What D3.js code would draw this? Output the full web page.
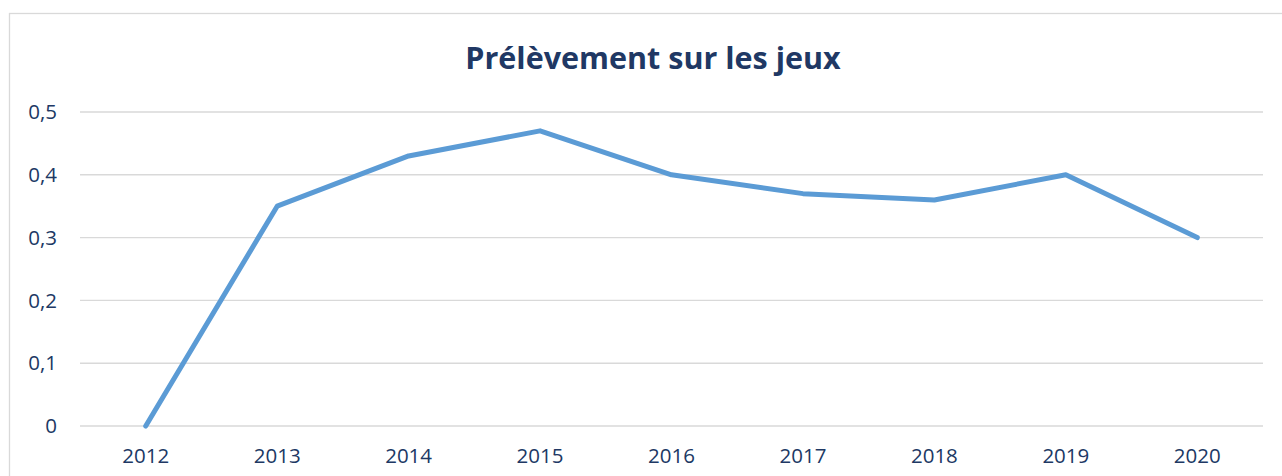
<!doctype html>
<html lang="fr">
<head>
<meta charset="utf-8">
<title>Prélèvement sur les jeux</title>
<script src="https://d3js.org/d3.v7.min.js"></script>
<style>
  body { margin: 0; background: #fff; }
  text { font-family: "Open Sans", "Noto Sans", sans-serif; fill: #203864; }
  .grid line { stroke: #d9d9d9; stroke-width: 1.4; }
</style>
</head>
<body>
<div id="chart"></div>
<script>
var years = ["2012", "2013", "2014", "2015", "2016", "2017", "2018", "2019", "2020"];
var values = [0, 0.35, 0.43, 0.47, 0.40, 0.37, 0.36, 0.40, 0.30];
var yTicks = [0, 0.1, 0.2, 0.3, 0.4, 0.5];
var title = "Prélèvement sur les jeux";

var width = 1282, height = 476;
var plotLeft = 80, plotRight = 1263, plotTop = 112, plotBottom = 426;

var svg = d3.select("#chart").append("svg")
    .attr("width", width)
    .attr("height", height);

// outer frame of the chart area
svg.append("rect")
    .attr("x", 9.5).attr("y", 13.5)
    .attr("width", width + 20).attr("height", height + 20)
    .attr("fill", "none")
    .attr("stroke", "#d9d9d9")
    .attr("stroke-width", 1.3);

var x = d3.scaleBand().domain(years).range([plotLeft, plotRight]);
var y = d3.scaleLinear().domain([0, 0.5]).range([plotBottom, plotTop]);

var fmt = function(d) { return d3.format(".1~f")(d).replace(".", ","); };

// gridlines
svg.append("g").attr("class", "grid")
  .selectAll("line").data(yTicks).enter()
  .append("line")
    .attr("x1", plotLeft).attr("x2", plotRight)
    .attr("y1", function(d) { return y(d); })
    .attr("y2", function(d) { return y(d); });

// y labels
svg.append("g").selectAll("text").data(yTicks).enter()
  .append("text")
    .attr("x", 57)
    .attr("y", function(d) { return y(d); })
    .attr("dy", "0.35em")
    .attr("text-anchor", "end")
    .attr("font-size", 20.5)
    .text(fmt);

// x labels
svg.append("g").selectAll("text").data(years).enter()
  .append("text")
    .attr("x", function(d) { return x(d) + x.bandwidth() / 2; })
    .attr("y", 463)
    .attr("text-anchor", "middle")
    .attr("font-size", 20.5)
    .text(function(d) { return d; });

// the line
var line = d3.line()
    .x(function(d, i) { return x(years[i]) + x.bandwidth() / 2; })
    .y(function(d) { return y(d); });

svg.append("path")
    .datum(values)
    .attr("d", line)
    .attr("fill", "none")
    .attr("stroke", "#5b9bd5")
    .attr("stroke-width", 5)
    .attr("stroke-linejoin", "round")
    .attr("stroke-linecap", "round");

svg.append("text")
    .attr("x", 653)
    .attr("y", 69)
    .attr("text-anchor", "middle")
    .attr("font-size", 30.5)
    .attr("font-weight", "bold")
    .text(title);
</script>
</body>
</html>
